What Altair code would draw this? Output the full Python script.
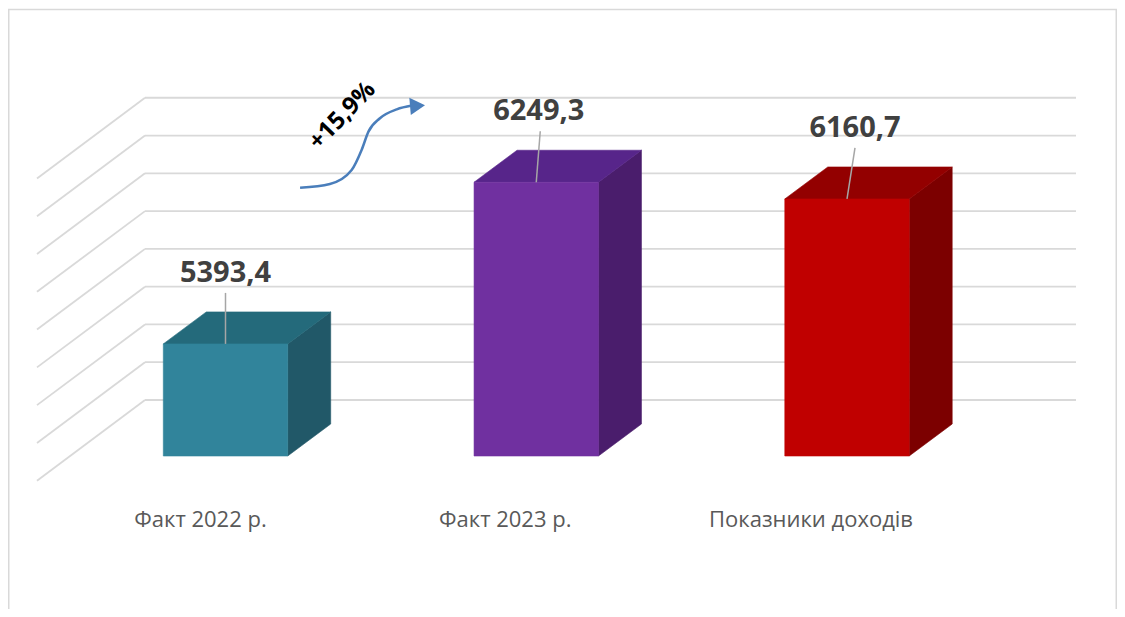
import altair as alt
import pandas as pd

# ---------------- data ----------------
categories = ["Факт 2022 р.", "Факт 2023 р.", "Показники доходів"]
values = [5393.4, 6249.3, 6160.7]
value_labels = ["5393,4", "6249,3", "6160,7"]
growth_label = "+15,9%"
grid_values = [4800, 5000, 5200, 5400, 5600, 5800, 6000, 6200, 6400]
axis_base = 4800

# ---------------- styles / layout ----------------
front_colors = ["#31849B", "#7030A0", "#C00000"]
top_colors = ["#246a7b", "#57258a", "#930000"]
side_colors = ["#215868", "#4a1d6c", "#7c0000"]
grid_color = "#D9D9D9"
arrow_color = "#4A7EBB"

W, H = 1109, 601
SLOT = 310.75          # px between category centres
X0_PX = 217.5          # px of first category centre in plot
K = 0.1889             # px per value unit
BASE_PY = 448          # px of axis base on front plane


def dx(px):
    return px / SLOT


def dv(px):
    return px / K


x_dom = [-X0_PX / SLOT, (W - X0_PX) / SLOT]
y_dom = [axis_base - (H - BASE_PY) / K, axis_base + BASE_PY / K]

xs = alt.Scale(domain=x_dom, nice=False, zero=False)
ys = alt.Scale(domain=y_dom, nice=False, zero=False)
XQ = lambda f: alt.X(f, type="quantitative", scale=xs, axis=None)
YQ = lambda f: alt.Y(f, type="quantitative", scale=ys, axis=None)

HW = dx(62.2)
BAR_DX, BAR_DV = dx(43), dv(32)
WALL_DV = dv(56)
WALL_L = dx(137 - X0_PX)
WALL_R = dx(1068 - X0_PX)
DIAG_DX, DIAG_DV = dx(108), dv(80.7)

# ---------------- tables ----------------
grid = pd.DataFrame({
    "x": [WALL_L] * len(grid_values),
    "x2": [WALL_R] * len(grid_values),
    "y": [g + WALL_DV for g in grid_values],
})
diag = pd.DataFrame({
    "x": [WALL_L] * len(grid_values),
    "x2": [WALL_L - DIAG_DX] * len(grid_values),
    "y": [g + WALL_DV for g in grid_values],
    "y2": [g + WALL_DV - DIAG_DV for g in grid_values],
})

lead_dx_px = [0, 4, 8]
label_dx_px = [0, 2.5, 8]
leaders = pd.DataFrame({
    "x": [float(i) for i in range(3)],
    "x2": [i + dx(lead_dx_px[i]) for i in range(3)],
    "y": values,
    "y2": [v + dv(51) for v in values],
})
vlabels = pd.DataFrame({
    "x": [i + dx(label_dx_px[i]) for i in range(3)],
    "y": [v + dv(62) for v in values],
    "t": value_labels,
})

cat_dx_px = [-25, -31, -36]
clabels = pd.DataFrame({
    "x": [i + dx(cat_dx_px[i]) for i in range(3)],
    "y": [axis_base - dv(519 - BASE_PY)] * 3,
    "t": categories,
})

# growth arrow annotation (in category / value units)
arrow_x = [0.240, 0.336, 0.406, 0.438, 0.460, 0.497, 0.551, 0.600]
arrow_y = [6220, 6240, 6314, 6420, 6517, 6588, 6635, 6655]
arrow = pd.DataFrame({"x": arrow_x, "y": arrow_y})
head = pd.DataFrame({"x": [0.618], "y": [6654]})
pct = pd.DataFrame({"x": [0.3765], "y": [6601], "t": [growth_label]})

# ---------------- marks ----------------
frame = alt.Chart(pd.DataFrame({"a": [0]})).mark_rect(
    fill="white", stroke=grid_color, strokeWidth=1.5
).encode(x=alt.value(0.75), x2=alt.value(W - 0.75), y=alt.value(1.5), y2=alt.value(H + 20))

grid_l = alt.Chart(grid).mark_rule(color=grid_color, strokeWidth=1.8).encode(
    x=XQ("x"), x2="x2:Q", y=YQ("y"))
diag_l = alt.Chart(diag).mark_rule(color=grid_color, strokeWidth=1.8).encode(
    x=XQ("x"), x2="x2:Q", y=YQ("y"), y2="y2:Q")

bar_layers = []
for i, (c, v) in enumerate(zip(categories, values)):
    side = pd.DataFrame({
        "x": [i + HW, i + HW + BAR_DX],
        "y": [axis_base, axis_base + BAR_DV],
        "y2": [v, v + BAR_DV],
    })
    top = pd.DataFrame({
        "y": [v, v + BAR_DV],
        "x": [i - HW, i - HW + BAR_DX],
        "x2": [i + HW, i + HW + BAR_DX],
    })
    front = pd.DataFrame({"x": [i - HW], "x2": [i + HW], "y": [axis_base], "y2": [v]})
    bar_layers.append(
        alt.Chart(side).mark_area(orient="vertical", color=side_colors[i], stroke=side_colors[i],
                                  strokeWidth=0.6, opacity=1).encode(
            x=XQ("x"), y=YQ("y"), y2="y2:Q"))
    bar_layers.append(
        alt.Chart(top).mark_area(orient="horizontal", color=top_colors[i], stroke=top_colors[i],
                                 strokeWidth=0.6, opacity=1).encode(
            y=YQ("y"), x=XQ("x"), x2="x2:Q"))
    bar_layers.append(
        alt.Chart(front).mark_rect(color=front_colors[i], stroke=front_colors[i], strokeWidth=0.6).encode(
            x=XQ("x"), x2="x2:Q", y=YQ("y"), y2="y2:Q"))

lead_l = alt.Chart(leaders).mark_rule(color="#A6A6A6", strokeWidth=1.5).encode(
    x=XQ("x"), x2="x2:Q", y=YQ("y"), y2="y2:Q")
vlab_l = alt.Chart(vlabels).mark_text(
    font="Open Sans", fontSize=29, fontWeight="bold", color="#404040", baseline="alphabetic", align="center"
).encode(x=XQ("x"), y=YQ("y"), text="t:N")
clab_l = alt.Chart(clabels).mark_text(
    font="Open Sans", fontSize=22, color="#595959", baseline="alphabetic", align="center"
).encode(x=XQ("x"), y=YQ("y"), text="t:N")

arrow_l = alt.Chart(arrow).mark_line(color=arrow_color, strokeWidth=2.5, interpolate="monotone").encode(
    x=XQ("x"), y=YQ("y"))
head_l = alt.Chart(head).mark_point(shape="triangle-right", filled=True, size=300, angle=355,
                                    color=arrow_color, opacity=1).encode(
    x=XQ("x"), y=YQ("y"))
pct_l = alt.Chart(pct).mark_text(
    font="Open Sans", fontSize=24, fontWeight="bold", color="#000000", angle=314,
    align="center", baseline="middle"
).encode(x=XQ("x"), y=YQ("y"), text="t:N")

chart = alt.layer(
    frame, grid_l, diag_l, *bar_layers, lead_l, vlab_l, clab_l, arrow_l, head_l, pct_l
).properties(
    width=W, height=H, autosize=alt.AutoSizeParams(type="none"), padding=0, background="white"
).configure_view(stroke=None)

chart.save("out.html", embed_options={"renderer": "svg", "actions": False})
